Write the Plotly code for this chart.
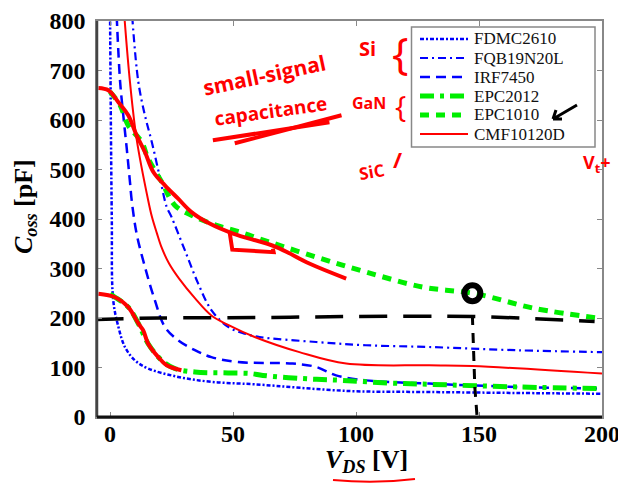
import plotly.graph_objects as go

# ---------------- data ----------------
series_names = ["FDMC2610", "FQB19N20L", "IRF7450", "EPC2012", "EPC1010", "CMF10120D"]

fdmc2610_v = [0.0, 0.7, 1.3, 3.4, 6.1, 10.1, 15.5, 27.7, 41.2, 58.8, 97.3, 129.7, 166.0, 200.0]
fdmc2610_c = [820, 407, 236, 182, 141, 114.5, 98, 81, 71, 66, 52.5, 50.5, 48.5, 47]

fqb19n20l_v = [9.0, 11.5, 14.2, 17.0, 20.0, 23.0, 25.0, 30.4, 35.8, 41.2, 48.0, 54.7, 60.8, 83.8, 104.0, 129.7, 166.2, 200.0]
fqb19n20l_c = [810, 677, 609, 555, 490, 425, 404, 337, 270, 216, 182, 168.5, 161.6, 151.5, 145, 141.4, 134.7, 131]

irf7450_v = [2.7, 4.1, 5.4, 6.8, 8.1, 8.8, 10.8, 14.2, 18.2, 22.3, 27.7, 34.5, 41.2, 52.0, 74.3, 83.8, 91.9, 104.0, 129.7, 166.0, 200.0]
irf7450_c = [811, 677, 609, 542, 475, 438, 370.5, 303, 236, 182, 155, 135, 121, 111, 108, 101, 84, 74, 67.5, 60.6, 57.4]

epc2012_v = [0.0, 2.0, 7.4, 11.5, 15.5, 21.0, 26.3, 34.5, 48.0, 57.4, 62.1, 78.4, 94.6, 113.5, 130.0, 166.2, 200.0]
epc2012_c = [248, 242, 222, 189, 148, 114.5, 98, 91, 89, 87.7, 84, 77.6, 74, 68.7, 66, 60.6, 57.4]

epc1010_v = [0.0, 4.1, 7.4, 12.8, 15.5, 21.0, 26.3, 33.1, 41.2, 54.7, 60.8, 83.8, 104.0, 127.0, 148.6, 173.0, 200.0]
epc1010_c = [657, 630, 589, 556, 522, 475, 428, 407.5, 390.7, 370.5, 360, 323, 293, 262.6, 249, 219, 199]

cmf10120d_v = [5.8, 8.1, 10.8, 15.5, 17.0, 19.0, 21.0, 24.0, 28.0, 34.5, 41.2, 48.0, 58.8, 77.0, 96.0, 129.7, 147.3, 200.0]
cmf10120d_c = [811, 677, 562, 438, 405, 372, 342, 310, 280, 240, 205, 186, 161.6, 131, 108, 104.4, 103, 87.7]

# hand-drawn marks on the picture
hand_upper_v = [-4.7, -0.7, 3.4, 7.4, 10.8, 14.2, 17.6, 22.3, 27.7, 33.1, 40.5, 50.0, 67.6, 81.0, 96.0]
hand_upper_c = [664.6, 660, 636, 609.5, 569, 535, 495, 468, 441, 414, 390.7, 370.5, 343.4, 310, 279.6]
hand_hook_v = [48.6, 49.7, 66.5, 66.2]
hand_hook_c = [373.7, 338, 333, 340]
hand_lower_v = [-4.7, 2.0, 7.4, 11.5, 13.5, 15.5, 19.6, 23.0, 29.0]
hand_lower_c = [249, 242, 222, 189, 175, 148, 121, 104.4, 94.3]
underline_a_v = [41.8, 89.2]
underline_a_c = [559, 595.4]
underline_b_v = [50.7, 94.1]
underline_b_c = [553, 609.5]
black_h_v = [-6.0, 20.0, 60.0, 100.0, 148.0, 175.0, 197.0]
black_h_c = [197, 200, 201, 203, 203, 198, 193]
black_v_v = [147.3, 147.6, 148.3, 149.3]
black_v_c = [206, 150, 60, -5]
circle_v = [147.3]
circle_c = [250]

x_ticks = [0, 50, 100, 150, 200]
y_ticks = [0, 100, 200, 300, 400, 500, 600, 700, 800]

# ---------------- styling ----------------
BLUE, GREEN, RED = "#0000ff", "#00ee00", "#ff0000"
styles = {
    "FDMC2610": dict(color=BLUE, width=2.5, dash="4px,2px,2px,2px"),
    "FQB19N20L": dict(color=BLUE, width=2.2, dash="8px,4px,2px,4px"),
    "IRF7450": dict(color=BLUE, width=2.5, dash="10px,6px"),
    "EPC2012": dict(color=GREEN, width=5, dash="14px,6px,4px,6px"),
    "EPC1010": dict(color=GREEN, width=5, dash="9px,7px"),
    "CMF10120D": dict(color=RED, width=2, dash="solid"),
}
series_data = {
    "FDMC2610": (fdmc2610_v, fdmc2610_c),
    "FQB19N20L": (fqb19n20l_v, fqb19n20l_c),
    "IRF7450": (irf7450_v, irf7450_c),
    "EPC2012": (epc2012_v, epc2012_c),
    "EPC1010": (epc1010_v, epc1010_c),
    "CMF10120D": (cmf10120d_v, cmf10120d_c),
}

# page body has an 8px margin: figure is placed at (8, 8) in the window
OFF = 8
W, H = 626 - OFF, 485 - OFF
L, R, T, B = 97 - OFF, 24, 21 - OFF, 68
PW, PH = W - L - R, H - T - B


def px(xp):  # window pixel x -> paper
    return (xp - OFF - L) / PW


def py(yp):  # window pixel y -> paper
    return (OFF + T + PH - yp) / PH


fig = go.Figure()
for name in series_names:
    v, c = series_data[name]
    fig.add_trace(go.Scatter(x=v, y=c, mode="lines", name=name, line=styles[name],
                             showlegend=False, line_shape="spline"))

hand = dict(color=RED, width=4)
for hv, hc, shp in [(hand_upper_v, hand_upper_c, "spline"), (hand_hook_v, hand_hook_c, "linear"),
                    (hand_lower_v, hand_lower_c, "spline"), (underline_a_v, underline_a_c, "linear"),
                    (underline_b_v, underline_b_c, "linear")]:
    fig.add_trace(go.Scatter(x=hv, y=hc, mode="lines", line=hand, showlegend=False,
                             line_shape=shp, hoverinfo="skip"))

fig.add_trace(go.Scatter(x=black_h_v, y=black_h_c, mode="lines", showlegend=False,
                         line=dict(color="black", width=3.5, dash="28px,16px"),
                         line_shape="spline", hoverinfo="skip"))
fig.add_trace(go.Scatter(x=black_v_v, y=black_v_c, mode="lines", showlegend=False,
                         line=dict(color="black", width=3, dash="10px,8px"), hoverinfo="skip"))
fig.add_trace(go.Scatter(x=circle_v, y=circle_c, mode="markers", showlegend=False,
                         marker=dict(symbol="circle-open", size=16, color="black",
                                     line=dict(color="black", width=6)), hoverinfo="skip"))

serif = "Liberation Serif, Times New Roman, serif"
axis_common = dict(showgrid=False, zeroline=False, showline=True, linecolor="#888",
                   linewidth=1.5, mirror="ticks", ticks="inside", ticklen=5,
                   tickwidth=1, tickcolor="#888", automargin=False,
                   tickfont=dict(family=serif, size=24, color="black", weight="bold"))
fig.update_xaxes(range=[-5.3, 200], tickvals=x_ticks, ticklabelstandoff=-6, **axis_common)
fig.update_yaxes(range=[0, 800], tickvals=y_ticks, ticklabelstandoff=5, **axis_common)

shapes = [
    dict(type="line", xref="paper", yref="paper", x0=0, x1=0, y0=0, y1=1,
         line=dict(color="#444", width=2.5), layer="above"),
    dict(type="line", xref="paper", yref="paper", x0=0, x1=1, y0=0, y1=0,
         line=dict(color="#111", width=3), layer="above"),
    dict(type="rect", xref="paper", yref="paper", x0=px(411.5), x1=px(595),
         y0=py(147), y1=py(27), line=dict(color="#888", width=1.5),
         fillcolor="white", layer="above"),
    dict(type="path", xref="paper", yref="paper",
         path=f"M {px(333)},{py(480)} Q {px(375)},{py(484)} {px(415)},{py(479)}",
         line=dict(color=RED, width=2)),
    # hand-drawn black arrow next to the EPC1010 entry
    dict(type="path", xref="paper", yref="paper",
         path=(f"M {px(577)},{py(105)} L {px(553)},{py(119)} "
               f"M {px(553)},{py(119)} L {px(556)},{py(110)} "
               f"M {px(553)},{py(119)} L {px(562)},{py(119)}"),
         line=dict(color="black", width=3), layer="above"),
]
annotations = []
for i, name in enumerate(series_names):
    yrow = 39 + 19 * i
    st = styles[name]
    shapes.append(dict(type="line", xref="paper", yref="paper", x0=px(420), x1=px(468),
                       y0=py(yrow), y1=py(yrow), layer="above",
                       line=dict(color=st["color"], width=st["width"], dash=st["dash"])))
    annotations.append(dict(text=name, xref="paper", yref="paper", x=px(473), y=py(yrow),
                            xanchor="left", yanchor="middle", showarrow=False, borderpad=0,
                            font=dict(family=serif, size=17, color="#111")))

annotations += [
    dict(text="<b><i>C</i><sub><i>oss</i></sub> [pF]</b>", xref="paper", yref="paper",
         x=px(25), y=py(207), textangle=-90, showarrow=False, xanchor="center",
         yanchor="middle", font=dict(family=serif, size=26, color="black")),
    dict(text="<b><i>V</i><sub><i>DS</i></sub> [V]</b>", xref="paper", yref="paper",
         x=px(366), y=py(461), showarrow=False, xanchor="center", yanchor="middle",
         font=dict(family=serif, size=26, color="black")),
]
hw = "Open Sans, sans-serif"
annotations += [
    dict(text="small-signal", x=62.8, y=690, textangle=-12, showarrow=False,
         font=dict(family=hw, size=21, color=RED, weight="bold")),
    dict(text="capacitance", x=65.3, y=618, textangle=-8, showarrow=False,
         font=dict(family=hw, size=19, color=RED, weight="bold")),
    dict(text="Si", x=104.6, y=745, showarrow=False,
         font=dict(family=hw, size=20, color=RED, weight="bold")),
    dict(text="GaN", x=105.4, y=634, showarrow=False,
         font=dict(family=hw, size=16, color=RED, weight="bold")),
    dict(text="SiC", x=106.6, y=496, showarrow=False, textangle=-10,
         font=dict(family=hw, size=17, color=RED, weight="bold")),
    dict(text="{", x=118, y=737, showarrow=False,
         font=dict(family=hw, size=44, color=RED)),
    dict(text="{", x=118, y=630, showarrow=False,
         font=dict(family=hw, size=30, color=RED)),
    dict(text="/", x=117, y=522, showarrow=False,
         font=dict(family=hw, size=22, color=RED, weight="bold")),
    dict(text="V<sub>t</sub>+", xref="paper", yref="paper", x=px(612), y=py(163),
         showarrow=False, font=dict(family=hw, size=18, color=RED, weight="bold")),
]

fig.update_layout(width=W, height=H, margin=dict(l=L, r=R, t=T, b=B),
                  paper_bgcolor="white", plot_bgcolor="white",
                  shapes=shapes, annotations=annotations, showlegend=False)

fig.write_html("out.html")
